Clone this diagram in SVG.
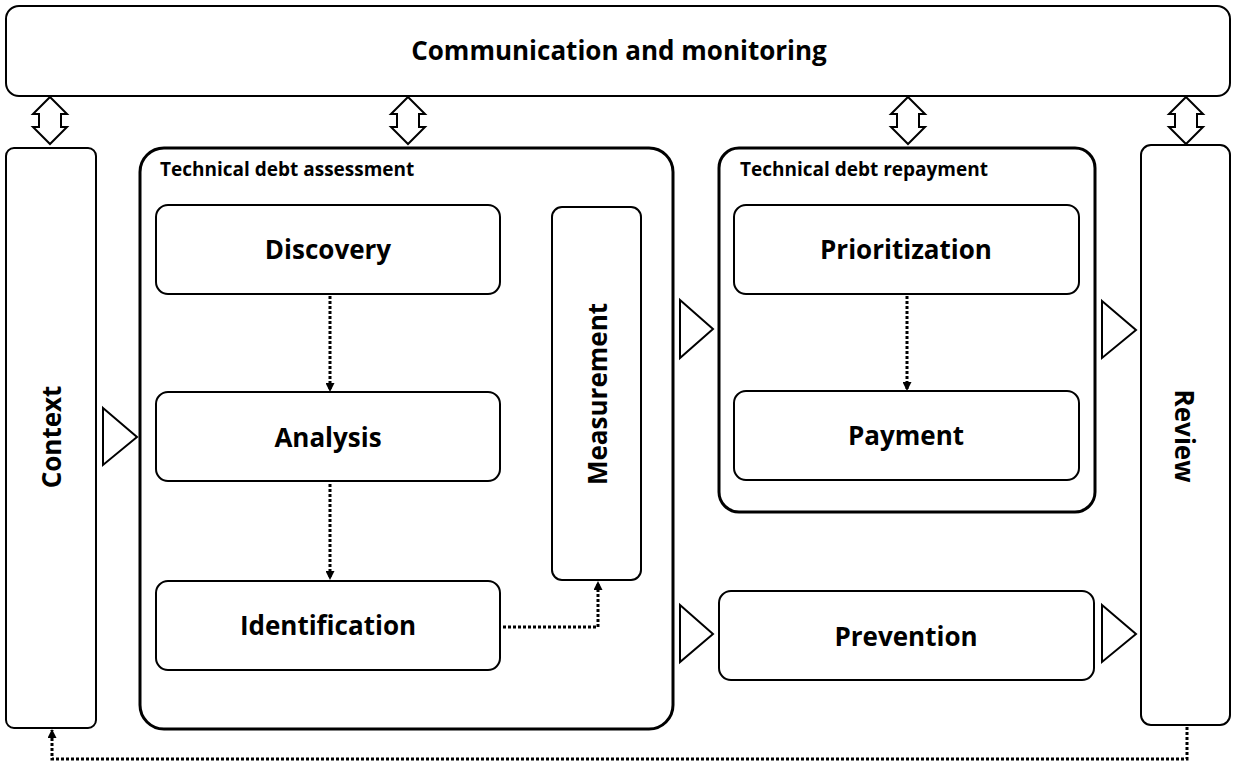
<svg xmlns="http://www.w3.org/2000/svg" width="1252" height="771" viewBox="0 0 1252 771">
<style>
.box{fill:#fff;stroke:#000;stroke-width:2}
.grp{fill:#fff;stroke:#000;stroke-width:3}
.lbl{font-family:"Open Sans","Liberation Sans",sans-serif;font-weight:bold;font-size:26px;fill:#000;text-anchor:middle;dominant-baseline:central}
.ttl{font-family:"Open Sans","Liberation Sans",sans-serif;font-weight:bold;font-size:19px;fill:#000}
.dot{fill:none;stroke:#000;stroke-width:3;stroke-dasharray:3 2}
.tri{fill:#fff;stroke:#000;stroke-width:2}
.dbl{fill:#fff;stroke:#000;stroke-width:2}
</style>
<defs>
<marker id="ah" markerWidth="9" markerHeight="9" refX="8" refY="4.5" orient="auto" markerUnits="userSpaceOnUse">
<path d="M0,0 L9,4.5 L0,9 Z" fill="#000"/>
</marker>
</defs>
<rect width="1252" height="771" fill="#fff"/>
<g id="communication">
<rect class="box" x="6" y="6" width="1224" height="90" rx="13"/>
<text class="lbl" x="619" y="50">Communication and monitoring</text>
</g>
<g id="context">
<rect class="box" x="6" y="148" width="90" height="580" rx="8"/>
<text class="lbl" transform="translate(51,437) rotate(-90)" x="0" y="0">Context</text>
</g>
<g id="assessment">
<rect class="grp" x="140" y="148" width="533" height="581" rx="24"/>
<text class="ttl" x="160" y="176">Technical debt assessment</text>
</g>
<g id="discovery">
<rect class="box" x="156" y="205" width="344" height="89" rx="12"/>
<text class="lbl" x="328" y="249">Discovery</text>
</g>
<g id="analysis">
<rect class="box" x="156" y="392" width="344" height="89" rx="12"/>
<text class="lbl" x="328" y="437">Analysis</text>
</g>
<g id="identification">
<rect class="box" x="156" y="581" width="344" height="89" rx="12"/>
<text class="lbl" x="328" y="625">Identification</text>
</g>
<g id="measurement">
<rect class="box" x="552" y="207" width="89" height="373" rx="10"/>
<text class="lbl" transform="translate(597,394) rotate(-90)" x="0" y="0">Measurement</text>
</g>
<g id="repayment">
<rect class="grp" x="719" y="148" width="376" height="364" rx="20"/>
<text class="ttl" x="740" y="176">Technical debt repayment</text>
</g>
<g id="prioritization">
<rect class="box" x="734" y="205" width="345" height="89" rx="12"/>
<text class="lbl" x="906" y="249">Prioritization</text>
</g>
<g id="payment">
<rect class="box" x="734" y="391" width="345" height="89" rx="12"/>
<text class="lbl" x="906" y="435">Payment</text>
</g>
<g id="prevention">
<rect class="box" x="719" y="591" width="375" height="89" rx="12"/>
<text class="lbl" x="906" y="636">Prevention</text>
</g>
<g id="review">
<rect class="box" x="1141" y="145" width="89" height="580" rx="10"/>
<text class="lbl" transform="translate(1185,436) rotate(90)" x="0" y="0">Review</text>
</g>
<g id="connectors">
<path class="dbl" d="M50,97 L67,114 L61,114 L61,127 L67,127 L50,144 L33,127 L39,127 L39,114 L33,114 Z"/>
<path class="dbl" d="M408,97 L425,114 L419,114 L419,127 L425,127 L408,144 L391,127 L397,127 L397,114 L391,114 Z"/>
<path class="dbl" d="M908,97 L925,114 L919,114 L919,127 L925,127 L908,144 L891,127 L897,127 L897,114 L891,114 Z"/>
<path class="dbl" d="M1186,97 L1203,114 L1197,114 L1197,127 L1203,127 L1186,144 L1169,127 L1175,127 L1175,114 L1169,114 Z"/>
<polygon class="tri" points="103,408 137,437 103,465"/>
<polygon class="tri" points="680,300 713,329 680,358"/>
<polygon class="tri" points="680,605 713,634 680,662"/>
<polygon class="tri" points="1102,301 1136,330 1102,358"/>
<polygon class="tri" points="1102,605 1136,634 1102,662"/>
<path class="dot" d="M330,296 L330,391" marker-end="url(#ah)"/>
<path class="dot" d="M330,484 L330,579" marker-end="url(#ah)"/>
<path class="dot" d="M907,296 L907,390" marker-end="url(#ah)"/>
<path class="dot" d="M503,627 L598,627 L598,582" marker-end="url(#ah)"/>
<path class="dot" d="M1187,727 L1187,759 L52,759 L52,730" marker-end="url(#ah)"/>
</g>
</svg>
